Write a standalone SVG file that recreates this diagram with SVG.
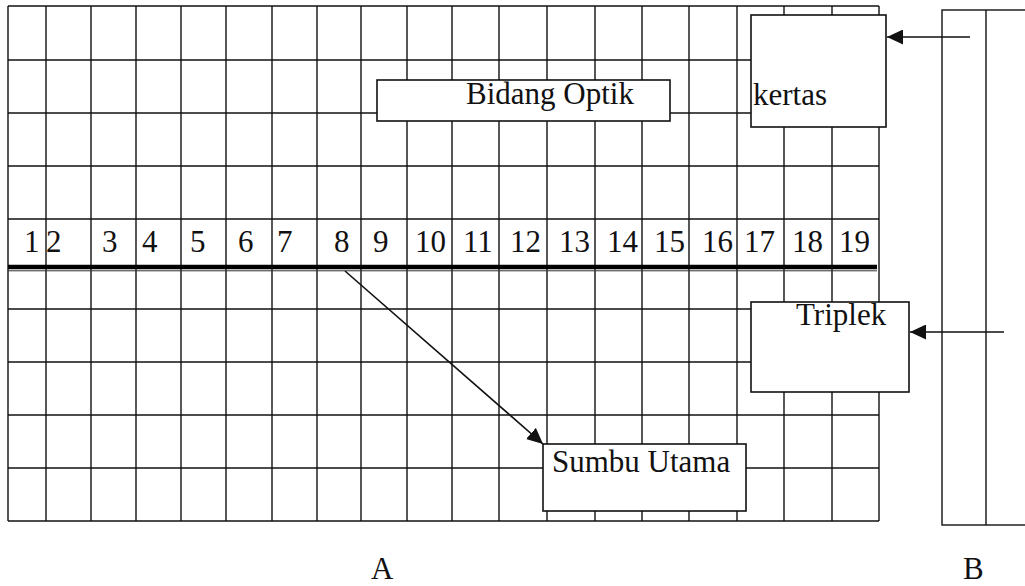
<svg xmlns="http://www.w3.org/2000/svg" width="1025" height="586" viewBox="0 0 1025 586">
  <style>
    .grid line { stroke: #111; stroke-width: 1.4; }
    .box { fill: #fff; stroke: #111; stroke-width: 1.6; }
    .txt { font-family: "Liberation Serif", "Times New Roman", serif; font-size: 31px; fill: #111; }
    .num { font-family: "Liberation Serif", "Times New Roman", serif; font-size: 31px; fill: #111; }
    .conn { stroke: #111; stroke-width: 1.6; fill: none; }
  </style>
  <defs>
    <marker id="arrow" markerUnits="userSpaceOnUse" markerWidth="17" markerHeight="15" refX="16" refY="7.5" orient="auto">
      <path d="M0,0 L16,7.5 L0,15 Z" fill="#111"/>
    </marker>
  </defs>
  <rect width="1025" height="586" fill="#fff"/>

  <!-- A: grid board -->
  <g id="grid-a" class="grid">
    <!-- vertical lines -->
    <line x1="8" y1="6" x2="8" y2="521"/>
    <line x1="46" y1="6" x2="46" y2="521"/>
    <line x1="91" y1="6" x2="91" y2="521"/>
    <line x1="136" y1="6" x2="136" y2="521"/>
    <line x1="181" y1="6" x2="181" y2="521"/>
    <line x1="226" y1="6" x2="226" y2="521"/>
    <line x1="272" y1="6" x2="272" y2="521"/>
    <line x1="317" y1="6" x2="317" y2="521"/>
    <line x1="361" y1="6" x2="361" y2="521"/>
    <line x1="407" y1="6" x2="407" y2="521"/>
    <line x1="452" y1="6" x2="452" y2="521"/>
    <line x1="499" y1="6" x2="499" y2="521"/>
    <line x1="547" y1="6" x2="547" y2="521"/>
    <line x1="595" y1="6" x2="595" y2="521"/>
    <line x1="642" y1="6" x2="642" y2="521"/>
    <line x1="689" y1="6" x2="689" y2="521"/>
    <line x1="737" y1="6" x2="737" y2="521"/>
    <line x1="784" y1="6" x2="784" y2="521"/>
    <line x1="832" y1="6" x2="832" y2="521"/>
    <line x1="879" y1="6" x2="879" y2="521"/>
    <!-- horizontal lines -->
    <line x1="8" y1="6" x2="879" y2="6"/>
    <line x1="8" y1="60" x2="879" y2="60"/>
    <line x1="8" y1="113" x2="879" y2="113"/>
    <line x1="8" y1="166" x2="879" y2="166"/>
    <line x1="8" y1="219" x2="879" y2="219"/>
    <line x1="8" y1="309" x2="879" y2="309"/>
    <line x1="8" y1="362" x2="879" y2="362"/>
    <line x1="8" y1="415" x2="879" y2="415"/>
    <line x1="8" y1="468" x2="879" y2="468"/>
    <line x1="8" y1="521" x2="879" y2="521"/>
  </g>

  <!-- main axis: heavy double rule -->
  <g id="axis">
    <line x1="8" y1="267" x2="877" y2="267" stroke="#000" stroke-width="4.5"/>
    <line x1="8" y1="270.8" x2="877" y2="270.8" stroke="#333" stroke-width="1"/>
  </g>

  <!-- scale numbers -->
  <g id="scale" class="num">
    <text x="24" y="252">1</text>
    <text x="46" y="252">2</text>
    <text x="102" y="252">3</text>
    <text x="142" y="252">4</text>
    <text x="190" y="252">5</text>
    <text x="238" y="252">6</text>
    <text x="277" y="252">7</text>
    <text x="334" y="252">8</text>
    <text x="373" y="252">9</text>
    <text x="415" y="252">10</text>
    <text x="463" y="252">11</text>
    <text x="510" y="252">12</text>
    <text x="559" y="252">13</text>
    <text x="607" y="252">14</text>
    <text x="654" y="252">15</text>
    <text x="702" y="252">16</text>
    <text x="744" y="252">17</text>
    <text x="792" y="252">18</text>
    <text x="839" y="252">19</text>
  </g>

  <!-- B: side view -->
  <g id="side-b">
    <rect x="942" y="10" width="100" height="515" fill="none" stroke="#111" stroke-width="1.4"/>
    <line x1="986" y1="10" x2="986" y2="525" stroke="#111" stroke-width="1.4"/>
  </g>

  <g id="bidang-optik">
    <rect class="box" x="377" y="80" width="293" height="41"/>
    <text class="txt" x="466" y="104">Bidang Optik</text>
  </g>

  <g id="kertas">
    <rect class="box" x="751" y="15" width="135" height="112"/>
    <text class="txt" x="753" y="105">kertas</text>
  </g>

  <g id="triplek">
    <rect class="box" x="751" y="302" width="158" height="90"/>
    <text class="txt" x="796" y="325">Triplek</text>
  </g>

  <g id="sumbu-utama">
    <rect class="box" x="543" y="444" width="203" height="67"/>
    <text class="txt" x="552" y="472">Sumbu Utama</text>
  </g>

  <!-- connectors -->
  <g id="connectors" class="conn">
    <line x1="970" y1="37" x2="887" y2="37" marker-end="url(#arrow)"/>
    <line x1="1004" y1="332" x2="910" y2="332" marker-end="url(#arrow)"/>
    <line x1="345" y1="271" x2="543" y2="444" marker-end="url(#arrow)"/>
  </g>

  <!-- view labels -->
  <g id="labels" class="txt">
    <text x="371" y="579">A</text>
    <text x="963" y="579">B</text>
  </g>
</svg>
